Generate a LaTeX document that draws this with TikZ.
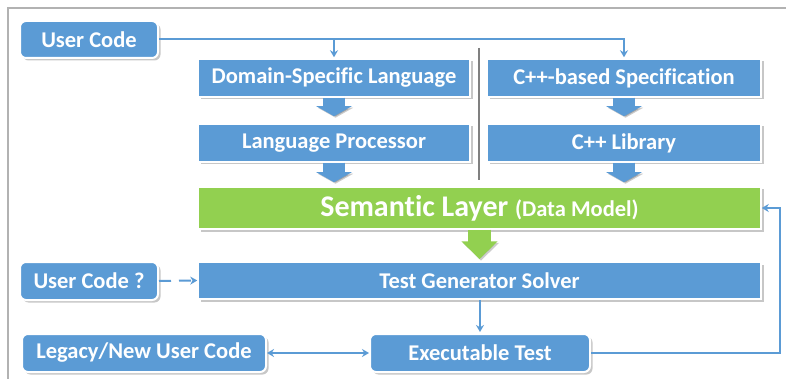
\documentclass[tikz,border=0pt]{standalone}
\usepackage{fontspec}
\setmainfont{Carlito}[Ligatures=NoCommon]
\usetikzlibrary{arrows.meta,shadows,calc}
\definecolor{boxblue}{RGB}{91,155,213}
\definecolor{boxgreen}{RGB}{146,208,80}
\definecolor{framegray}{RGB}{178,178,178}
\definecolor{sepgray}{RGB}{128,128,128}
\tikzset{
  shad/.style={drop shadow={shadow xshift=2.5pt,shadow yshift=-2.5pt,fill=black,opacity=.22}},
  roundbox/.style={shad,fill=boxblue,draw=white,line width=2pt,rounded corners=6pt,
    text=white,font=\bfseries\fontsize{22.5}{26}\selectfont,inner sep=0pt},
  rectbox/.style={shad,fill=boxblue,draw=white,line width=1.5pt,
    text=white,font=\bfseries\fontsize{22.5}{26}\selectfont,inner sep=0pt},
  conn/.style={boxblue,line width=2pt},
  tip/.style={-{Stealth[length=7pt,width=8pt]}},
  blockarr/.style={line width=22pt,-{Triangle[width=35pt,length=10pt]},
    preaction={draw=black,opacity=.2,transform canvas={shift={(1.5pt,-1.5pt)}}}},
}
\begin{document}
\begin{tikzpicture}[x=1pt,y=-1pt]
\useasboundingbox (0,0) rectangle (786,379);
\fill[white] (0,0) rectangle (786,379);
\draw[framegray,line width=1.2pt] (786,8) -- (8,8) -- (8,379);

\node[roundbox,minimum width=138pt,minimum height=37pt] (uc) at (89,39.5) {User Code};
\node[rectbox,minimum width=272pt,minimum height=38pt] (dsl) at (334,78) {Domain-Specific Language};
\node[rectbox,minimum width=272pt,minimum height=38pt] (lp) at (334,143) {Language Processor};
\node[rectbox,minimum width=274pt,minimum height=38pt] (cs) at (624,78) {C++-based Specification};
\node[rectbox,minimum width=274pt,minimum height=38pt] (cl) at (624,143) {C++ Library};
\node[rectbox,fill=boxgreen,minimum width=563pt,minimum height=42pt] (sem) at (479.5,208)
  {\fontsize{30}{34}\selectfont Semantic Layer \fontsize{22.5}{26}\selectfont(Data Model)};
\node[rectbox,minimum width=563pt,minimum height=37pt] (tgs) at (479.5,280.5) {Test Generator Solver};
\node[roundbox,minimum width=138pt,minimum height=38pt] (uc2) at (89,281) {User Code ?};
\node[roundbox,minimum width=244pt,minimum height=38pt] (leg) at (144,353) {Legacy/New User Code};
\node[roundbox,minimum width=220pt,minimum height=38pt] (ex) at (480,353) {Executable Test};

\draw[sepgray,line width=2.5pt] (479,48) -- (479,180);

% thin connectors
\draw[conn,tip] (uc.east) -| ([yshift=1pt]cs.north);
\draw[conn,tip] (uc.east -| dsl.north) -- ([yshift=1pt]dsl.north);
\draw[conn,tip,dash pattern=on 12pt off 8pt] (uc2.east) -- (tgs.west);
\draw[conn,tip] (ex.north |- tgs.south) -- ([yshift=1pt]ex.north);
\draw[conn,{Stealth[length=7pt,width=8pt]}-{Stealth[length=7pt,width=8pt]}] (leg.east) -- (ex.west);
\coordinate (fb) at (780,353);
\draw[conn,tip] (ex.east) -- (fb) |- (sem.east);

% block arrows
\draw[blockarr,boxblue,shorten >=7pt] (dsl.south) -- (lp.north);
\draw[blockarr,boxblue,shorten >=4pt] (lp.south) -- (lp.south |- sem.north);
\draw[blockarr,boxblue,shorten >=7pt] (cs.south) -- (cl.north);
\draw[blockarr,boxblue,shorten >=4pt] (cl.south) -- (cl.south |- sem.north);
\draw[blockarr,boxgreen,line width=23pt,-{Triangle[width=35pt,length=18pt]},shorten >=2pt]
  (sem.south) -- (tgs.north);
\end{tikzpicture}
\end{document}
